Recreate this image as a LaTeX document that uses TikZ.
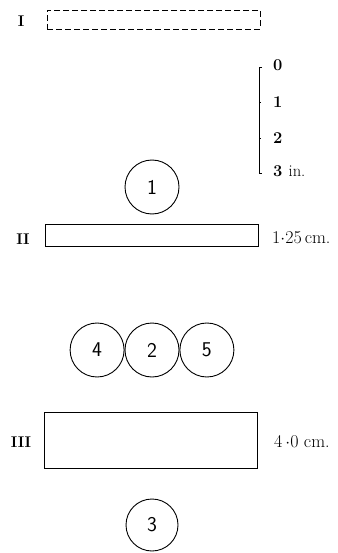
\documentclass[tikz,border=0pt]{standalone}
\usetikzlibrary{calc, positioning}
\tikzset{
  disc/.style={draw, circle, line width=0.9pt, minimum size=54pt, inner sep=0pt,
    font=\sffamily\fontsize{21}{21}\selectfont},
  strip/.style={draw, line width=0.8pt, inner sep=0pt, minimum width=213pt},
  roman/.style={font=\bfseries\fontsize{15.5}{15.5}\selectfont},
  widthlab/.style={font=\fontsize{18}{18}\selectfont, anchor=west, inner sep=0pt},
  scalelab/.style={font=\bfseries\fontsize{16.5}{16.5}\selectfont, anchor=west, inner sep=0pt},
}

\begin{document}
\begin{tikzpicture}[x=1pt,y=-1pt]
  \useasboundingbox (0,0) rectangle (337,553);

  % strips
  \node[strip, dash pattern=on 6pt off 3pt, minimum height=19pt] (stripI) at (153.5,19.5) {};
  \node[strip, minimum height=22pt] (stripII) at (151.5,235) {};
  \node[strip, minimum height=56pt] (stripIII) at (150.5,440) {};
  \node[roman] (labI) at (21,21) {I};
  \node[roman] (labII) at (23,239) {II};
  \node[roman] (labIII) at (21,442) {III};
  \node[widthlab] (widII) at (272,238) {1$\cdot$25\,cm.};
  \node[widthlab] (widIII) at (274,442) {4\,$\cdot$0\ cm.};

  % scale
  \coordinate (s0) at (259,67);
  \coordinate (s1) at (259,102);
  \coordinate (s2) at (259,138);
  \coordinate (s3) at (259,173);
  \draw[line width=0.8pt] ($(s0)+(3,0)$) -- (s0) -- (s3) -- ($(s3)+(3,0)$);
  \draw[line width=0.8pt] (s1) -- ++(2,0) (s2) -- ++(2,0);
  \node[scalelab, right=14pt of s0, yshift=2pt] (m0) {0};
  \node[scalelab, right=14pt of s1] (m1) {1};
  \node[scalelab, right=14pt of s2] (m2) {2};
  \node[scalelab, right=14pt of s3, yshift=2pt] (m3) {3 \mdseries in.};

  % discs
  \node[disc] (d1) at (152,187) {1};
  \node[disc] (d2) at (152,350) {2};
  \node[disc, left=0pt of d2] (d4) {4};
  \node[disc, right=0pt of d2] (d5) {5};
  \node[disc, minimum size=52pt] (d3) at (152,525) {3};
\end{tikzpicture}
\end{document}
